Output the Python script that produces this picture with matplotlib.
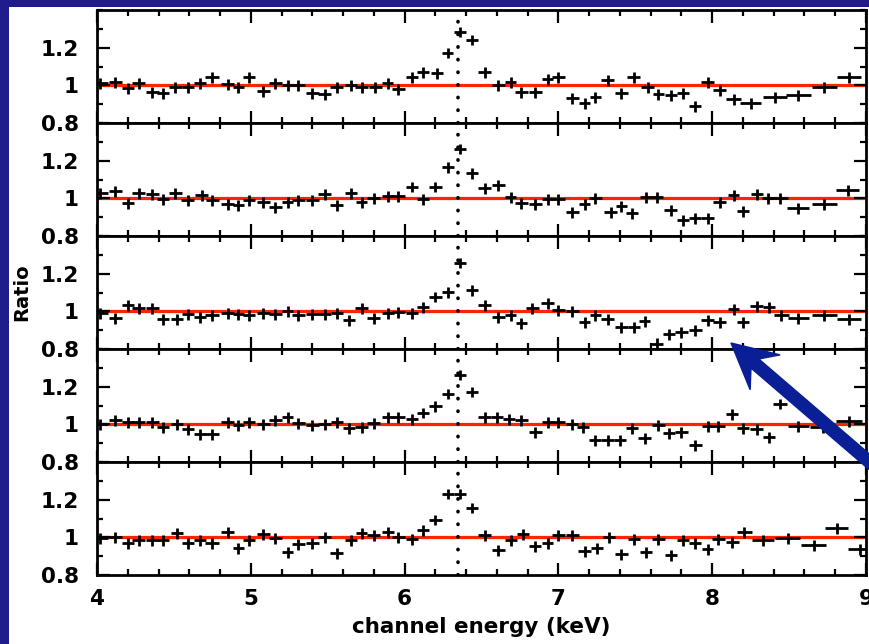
import numpy as np
import matplotlib
matplotlib.use("Agg")
import matplotlib.pyplot as plt
from matplotlib.ticker import MultipleLocator, FixedLocator, FixedFormatter
from matplotlib.patches import Rectangle, FancyArrow

# Energies (keV) et ratios data/modele pour les 5 spectres
e1 = [4.02, 4.12, 4.20, 4.27, 4.36, 4.43, 4.51, 4.59, 4.67, 4.75,
      4.85, 4.92, 4.99, 5.08, 5.16, 5.24, 5.31, 5.40, 5.48, 5.56,
      5.65, 5.72, 5.81, 5.89, 5.96, 6.05, 6.12, 6.21, 6.28, 6.36,
      6.44, 6.52, 6.61, 6.69, 6.76, 6.85, 6.93, 7.00, 7.09, 7.17,
      7.24, 7.32, 7.41, 7.49, 7.58, 7.65, 7.73, 7.81, 7.89, 7.97,
      8.05, 8.14, 8.25, 8.41, 8.56, 8.73, 8.89]
r1 = [1.011, 1.016, 0.984, 1.011, 0.963, 0.957, 0.989, 0.989, 1.011, 1.043,
      1.005, 0.989, 1.043, 0.968, 1.011, 1.000, 1.000, 0.957, 0.952, 0.989,
      1.000, 0.989, 0.989, 1.011, 0.979, 1.043, 1.069, 1.064, 1.171, 1.283,
      1.240, 1.069, 1.000, 1.016, 0.963, 0.963, 1.032, 1.043, 0.931, 0.904,
      0.936, 1.027, 0.957, 1.043, 0.989, 0.952, 0.947, 0.957, 0.888, 1.016,
      0.973, 0.925, 0.904, 0.936, 0.947, 0.989, 1.043]

e2 = [4.02, 4.12, 4.20, 4.27, 4.36, 4.43, 4.51, 4.59, 4.68, 4.75,
      4.85, 4.92, 4.99, 5.08, 5.16, 5.24, 5.31, 5.40, 5.48, 5.56,
      5.65, 5.72, 5.80, 5.89, 5.96, 6.05, 6.12, 6.20, 6.28, 6.36,
      6.44, 6.52, 6.61, 6.69, 6.76, 6.85, 6.93, 7.00, 7.09, 7.17,
      7.24, 7.34, 7.41, 7.48, 7.57, 7.64, 7.73, 7.81, 7.89, 7.97,
      8.05, 8.14, 8.20, 8.29, 8.36, 8.44, 8.56, 8.73, 8.88]
r2 = [1.027, 1.037, 0.973, 1.027, 1.021, 0.995, 1.027, 0.989, 1.016, 0.989,
      0.968, 0.963, 0.989, 0.979, 0.952, 0.979, 0.989, 0.989, 1.021, 0.963,
      1.027, 0.979, 1.000, 1.011, 1.011, 1.059, 0.995, 1.059, 1.165, 1.261,
      1.133, 1.053, 1.069, 1.005, 0.973, 0.968, 0.995, 0.995, 0.925, 0.968,
      1.000, 0.925, 0.957, 0.920, 1.005, 1.005, 0.936, 0.883, 0.893, 0.893,
      0.979, 1.016, 0.931, 1.021, 1.000, 1.000, 0.947, 0.968, 1.043]

e3 = [4.02, 4.12, 4.20, 4.27, 4.36, 4.43, 4.52, 4.59, 4.67, 4.75,
      4.85, 4.92, 4.99, 5.08, 5.16, 5.24, 5.31, 5.40, 5.48, 5.56,
      5.64, 5.72, 5.80, 5.89, 5.96, 6.05, 6.12, 6.20, 6.28, 6.36,
      6.44, 6.52, 6.61, 6.69, 6.76, 6.83, 6.93, 7.00, 7.09, 7.17,
      7.24, 7.32, 7.41, 7.49, 7.56, 7.64, 7.72, 7.80, 7.89, 7.97,
      8.05, 8.14, 8.20, 8.29, 8.37, 8.45, 8.56, 8.73, 8.89]
r3 = [0.989, 0.963, 1.032, 1.016, 1.016, 0.957, 0.957, 0.984, 0.968, 0.979,
      0.989, 0.984, 0.979, 0.989, 0.984, 1.000, 0.979, 0.984, 0.984, 0.989,
      0.952, 1.016, 0.963, 0.989, 0.995, 0.989, 1.021, 1.075, 1.101, 1.256,
      1.112, 1.032, 0.968, 0.979, 0.936, 1.016, 1.043, 1.005, 1.000, 0.941,
      0.979, 0.957, 0.915, 0.915, 0.947, 0.829, 0.877, 0.888, 0.899, 0.952,
      0.941, 1.011, 0.941, 1.027, 1.021, 0.979, 0.963, 0.979, 0.957]

e4 = [4.02, 4.12, 4.20, 4.27, 4.36, 4.43, 4.52, 4.59, 4.67, 4.75,
      4.85, 4.92, 4.99, 5.08, 5.16, 5.24, 5.31, 5.40, 5.48, 5.56,
      5.64, 5.72, 5.80, 5.89, 5.96, 6.05, 6.12, 6.20, 6.28, 6.36,
      6.44, 6.52, 6.60, 6.68, 6.76, 6.85, 6.93, 7.00, 7.09, 7.16,
      7.24, 7.32, 7.40, 7.48, 7.56, 7.65, 7.72, 7.80, 7.89, 7.97,
      8.04, 8.13, 8.20, 8.29, 8.37, 8.44, 8.56, 8.72, 8.89]
r4 = [1.000, 1.021, 1.011, 1.011, 1.011, 0.984, 1.000, 0.973, 0.947, 0.947,
      1.011, 0.995, 1.011, 1.000, 1.021, 1.037, 1.005, 0.995, 1.000, 1.011,
      0.979, 0.984, 1.005, 1.037, 1.037, 1.027, 1.059, 1.096, 1.160, 1.261,
      1.171, 1.037, 1.037, 1.027, 1.021, 0.957, 1.011, 1.011, 1.000, 0.984,
      0.915, 0.915, 0.915, 0.979, 0.925, 0.995, 0.952, 0.957, 0.888, 0.989,
      0.989, 1.053, 0.979, 0.973, 0.931, 1.107, 0.989, 0.984, 1.016]

e5 = [4.02, 4.12, 4.20, 4.27, 4.36, 4.43, 4.52, 4.59, 4.67, 4.75,
      4.85, 4.92, 4.99, 5.08, 5.16, 5.24, 5.31, 5.40, 5.48, 5.56,
      5.65, 5.72, 5.80, 5.89, 5.96, 6.05, 6.12, 6.20, 6.28, 6.36,
      6.44, 6.52, 6.61, 6.69, 6.77, 6.85, 6.93, 7.00, 7.09, 7.17,
      7.25, 7.33, 7.41, 7.49, 7.57, 7.65, 7.73, 7.81, 7.89, 7.97,
      8.04, 8.13, 8.21, 8.33, 8.49, 8.66, 8.81, 8.96]
r5 = [0.995, 1.000, 0.968, 0.984, 0.984, 0.984, 1.021, 0.968, 0.984, 0.968,
      1.027, 0.941, 0.984, 1.016, 0.995, 0.920, 0.963, 0.968, 1.000, 0.915,
      0.984, 1.021, 1.011, 1.027, 1.000, 0.989, 1.037, 1.091, 1.229, 1.229,
      1.155, 1.011, 0.931, 0.984, 1.016, 0.952, 0.968, 1.011, 1.011, 0.925,
      0.941, 1.000, 0.909, 0.989, 0.920, 0.989, 0.904, 0.984, 0.968, 0.936,
      0.989, 0.973, 1.027, 0.984, 0.995, 0.957, 1.048, 0.936]

spectra = [(e1, r1), (e2, r2), (e3, r3), (e4, r4), (e5, r5)]
ratio_err = 0.028          # barre d'erreur verticale typique
line_energy = 6.35         # raie du fer (pointilles)
y_ticks = [0.8, 1.0, 1.2]
y_tick_labels = ["0.8", "1", "1.2"]

plt.rcParams['font.family'] = 'DejaVu Sans'
plt.rcParams['font.weight'] = 'bold'

W, H = 869, 644
fig = plt.figure(figsize=(W / 100, H / 100), dpi=100, facecolor='#201c8c')
# zone blanche de la diapo
fig.add_artist(Rectangle((9 / W, 0), 1, 1 - 7 / H, transform=fig.transFigure,
                         facecolor='white', edgecolor='none', zorder=-10))

left, right = 97 / W, 866 / W
top_px, panel_px = 10, 113

axes = []
for k, (e, r) in enumerate(spectra):
    bottom = 1 - (top_px + panel_px * (k + 1)) / H
    ax = fig.add_axes([left, bottom, right - left, panel_px / H])
    e = np.array(e)
    r = np.array(r)
    half = np.gradient(e) / 2

    ax.axhline(1.0, color='#ff2400', lw=2.3, zorder=1)
    ax.errorbar(e, r, xerr=half, yerr=ratio_err, fmt='none', ecolor='black',
                elinewidth=2.0, capsize=0, zorder=2)
    ax.axvline(line_energy, color='black', lw=2.6, linestyle=(0, (0.1, 3.4)),
               dash_capstyle='round', zorder=3)

    ax.set_xlim(4, 9)
    ax.set_ylim(0.8, 1.4)
    ax.xaxis.set_major_locator(MultipleLocator(1))
    ax.xaxis.set_minor_locator(MultipleLocator(0.2))
    ax.yaxis.set_major_locator(FixedLocator(y_ticks))
    ax.yaxis.set_major_formatter(FixedFormatter(y_tick_labels))
    ax.yaxis.set_minor_locator(MultipleLocator(0.1))
    ax.tick_params(which='both', direction='in', top=True, right=True,
                   width=1.6, labelsize=15.5)
    ax.tick_params(which='major', length=9)
    ax.tick_params(which='minor', length=4.5)
    ax.tick_params(axis='y', pad=13)
    ax.tick_params(axis='x', pad=10)
    for sp in ax.spines.values():
        sp.set_linewidth(2.0)
    if k < 4:
        ax.tick_params(labelbottom=False)
    axes.append(ax)

axes[-1].set_xlabel('channel energy (keV)', fontsize=15.5, fontweight='bold',
                    labelpad=6)
fig.text(22 / W, 1 - 292 / H, 'Ratio', rotation=90, ha='center', va='center',
         fontsize=14, fontweight='bold')

# fleche de la diapo
fig.add_artist(FancyArrow(8.80, 1.73, -1.49, 1.28, width=0.12, head_width=0.46,
                          head_length=0.45, overhang=0.3, length_includes_head=True,
                          color='#0a1e96', transform=fig.dpi_scale_trans, zorder=10))

fig.savefig('out.png', dpi=100, facecolor=fig.get_facecolor())
